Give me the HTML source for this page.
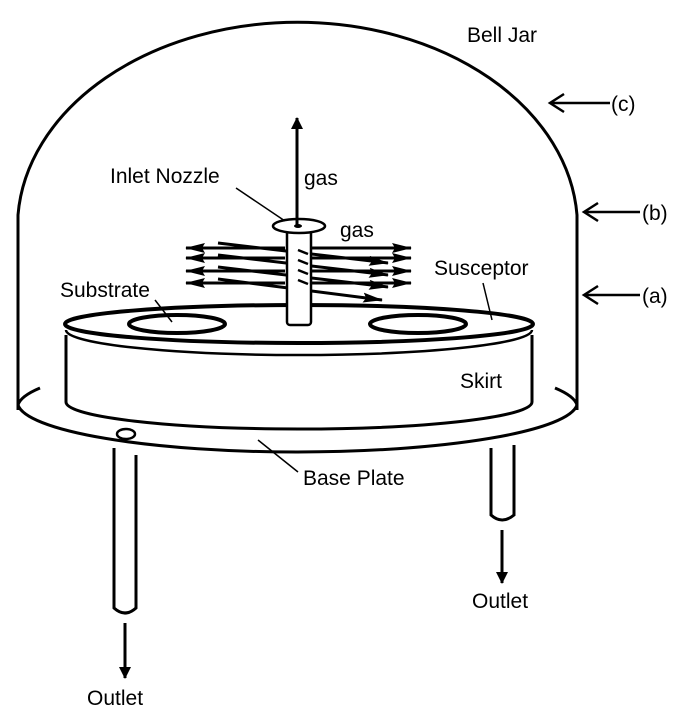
<!DOCTYPE html>
<html><head><style>
html,body{margin:0;padding:0;background:#fff;}
svg{display:block;}
text{font-family:"Liberation Sans",Arial,sans-serif;font-size:21px;fill:#000;}
</style></head><body>
<svg width="694" height="721" viewBox="0 0 694 721" xmlns="http://www.w3.org/2000/svg">
<defs>
<marker id="ah" markerWidth="12" markerHeight="12" refX="11" refY="6" orient="auto" markerUnits="userSpaceOnUse">
<path d="M0,0 L12,6 L0,12 Z" fill="#000"/></marker>
<marker id="ah2" markerWidth="20" markerHeight="10" refX="19" refY="5" orient="auto" markerUnits="userSpaceOnUse">
<path d="M0,0 L20,5 L0,10 L3,5 Z" fill="#000"/></marker>
</defs>
<g fill="none" stroke="#000" stroke-width="3">
<path d="M18,410 L18,215 A280,205 0 0 1 577,215 L577,410"/>
<path d="M114,448 L114,608 Q125,618 136,608 L136,455" fill="#fff"/>
<path d="M491,448 L491,515 Q502,525 514,515 L514,445" fill="#fff"/>
<path d="M18,405 A280,50 0 0 0 577,405"/>
<path d="M40,388 A280,50 0 0 0 18,405"/>
<path d="M555,388 A280,50 0 0 1 577,405"/>
<ellipse cx="126" cy="434" rx="9" ry="5" stroke-width="2.5"/>
<path d="M66,335 L66,402 A233,27 0 0 0 532,402 L532,335" fill="#fff"/>
<path d="M66,330 A233,25 0 0 0 532,330" stroke-width="2.5"/>
<ellipse cx="299" cy="324" rx="234" ry="19" fill="#fff" stroke-width="4"/>
<ellipse cx="177" cy="324" rx="48" ry="9" stroke-width="4"/>
<ellipse cx="418" cy="324" rx="48" ry="9" stroke-width="4"/>
</g>
<g stroke="#000" stroke-width="3" fill="none">
<line x1="285" y1="248" x2="186" y2="248" marker-end="url(#ah2)"/>
<line x1="285" y1="258" x2="186" y2="258" marker-end="url(#ah2)"/>
<line x1="285" y1="271" x2="186" y2="271" marker-end="url(#ah2)"/>
<line x1="285" y1="283" x2="186" y2="283" marker-end="url(#ah2)"/>
<line x1="312" y1="248" x2="411" y2="248" marker-end="url(#ah2)"/>
<line x1="312" y1="258" x2="411" y2="258" marker-end="url(#ah2)"/>
<line x1="312" y1="271" x2="411" y2="271" marker-end="url(#ah2)"/>
<line x1="312" y1="283" x2="411" y2="283" marker-end="url(#ah2)"/>
<line x1="218" y1="243" x2="388" y2="263" marker-end="url(#ah2)"/>
<line x1="218" y1="255" x2="388" y2="275" marker-end="url(#ah2)"/>
<line x1="218" y1="267" x2="388" y2="287" marker-end="url(#ah2)"/>
<line x1="218" y1="279" x2="382" y2="300" marker-end="url(#ah2)"/>
</g>
<rect x="287" y="226" width="24" height="99" rx="3" fill="#fff" stroke="#000" stroke-width="2.5"/>
<g stroke="#000" stroke-width="2.5"><line x1="298" y1="250" x2="308" y2="254"/><line x1="298" y1="260" x2="308" y2="264"/><line x1="298" y1="270" x2="308" y2="274"/><line x1="298" y1="280" x2="308" y2="284"/></g>
<ellipse cx="299" cy="226" rx="26" ry="7" fill="#fff" stroke="#000" stroke-width="2.5"/>
<ellipse cx="298" cy="226" rx="4" ry="2" fill="#000"/>
<line x1="297" y1="226" x2="297" y2="118" stroke="#000" stroke-width="3" marker-end="url(#ah)"/>
<g stroke="#000" stroke-width="1.5">
<line x1="236" y1="188" x2="285" y2="221"/>
<line x1="155" y1="300" x2="172" y2="322"/>
<line x1="483" y1="283" x2="492" y2="320"/>
<line x1="258" y1="440" x2="298" y2="472"/>
</g>
<g stroke="#000" stroke-width="2.5" fill="none">
<line x1="610" y1="103" x2="550" y2="103"/><path d="M564,94 L550,103 L564,112"/>
<line x1="640" y1="212" x2="584" y2="212"/><path d="M598,203 L584,212 L598,221"/>
<line x1="640" y1="295" x2="584" y2="295"/><path d="M598,286 L584,295 L598,304"/>
</g>
<line x1="125" y1="623" x2="125" y2="678" stroke="#000" stroke-width="3" marker-end="url(#ah)"/>
<line x1="502" y1="530" x2="502" y2="583" stroke="#000" stroke-width="3" marker-end="url(#ah)"/>
<text x="467" y="42">Bell Jar</text>
<text x="611" y="111">(c)</text>
<text x="642" y="220">(b)</text>
<text x="642" y="303">(a)</text>
<text x="110" y="183">Inlet Nozzle</text>
<text x="304" y="185">gas</text>
<text x="340" y="237">gas</text>
<text x="434" y="275">Susceptor</text>
<text x="60" y="297">Substrate</text>
<text x="460" y="388">Skirt</text>
<text x="303" y="485">Base Plate</text>
<text x="472" y="608">Outlet</text>
<text x="87" y="705">Outlet</text>
</svg>
</body></html>
